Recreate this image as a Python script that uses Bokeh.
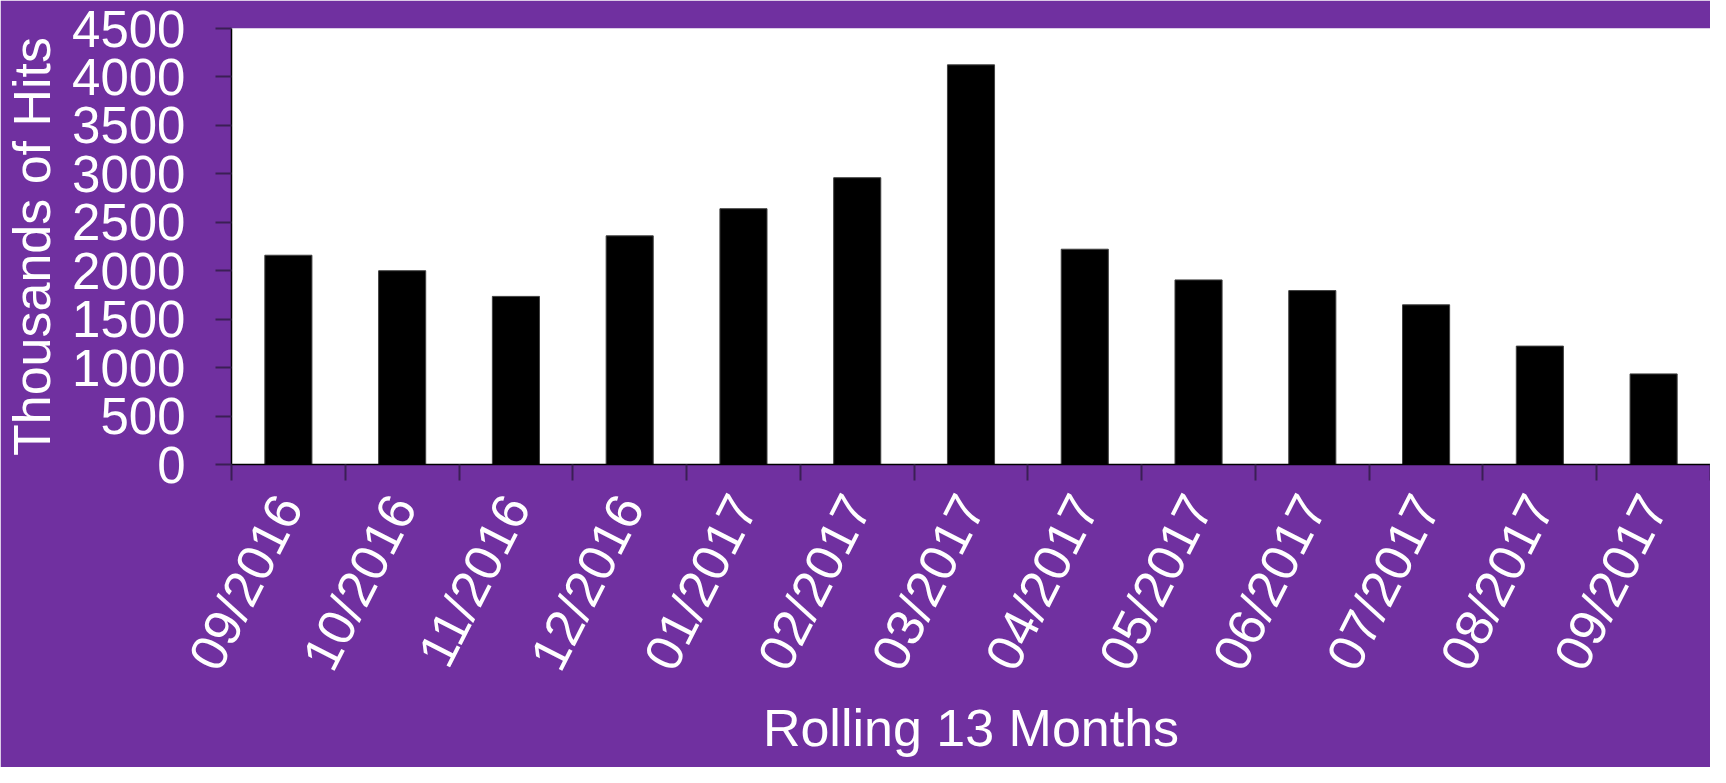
import math
from bokeh.plotting import figure
from bokeh.models import Range1d, FixedTicker
from bokeh.embed import file_html
from bokeh.resources import INLINE

months = ["09/2016", "10/2016", "11/2016", "12/2016", "01/2017", "02/2017", "03/2017",
          "04/2017", "05/2017", "06/2017", "07/2017", "08/2017", "09/2017"]
hits = [2160, 2000, 1735, 2360, 2640, 2960, 4125, 2222, 1905, 1795, 1648, 1222, 935]
yticks = [0, 500, 1000, 1500, 2000, 2500, 3000, 3500, 4000, 4500]

PURPLE = "#7030A0"
FONT = "Liberation Sans"

xpos = [i + 0.5 for i in range(len(months))]
bounds = list(range(len(months) + 1))

p = figure(width=1710, height=767, output_backend="svg", toolbar_location=None,
           x_range=Range1d(0, len(months)), y_range=Range1d(0, 4500),
           min_border_left=230, min_border_right=0, min_border_top=28, min_border_bottom=303)

p.background_fill_color = "white"
p.border_fill_color = PURPLE
p.outline_line_color = None
p.xgrid.visible = False
p.ygrid.visible = False

p.vbar(x=xpos, top=hits, width=0.414, bottom=0, fill_color="black",
       line_color="#404040", line_width=1)

# x axis
xa = p.xaxis[0]
xa.ticker = FixedTicker(ticks=xpos, minor_ticks=bounds)
xa.major_label_overrides = {x: m for x, m in zip(xpos, months)}
xa.major_tick_out = 0
xa.major_tick_in = 0
xa.minor_tick_out = 16
xa.minor_tick_in = 0
xa.minor_tick_line_color = "#3a1f55"
xa.minor_tick_line_width = 2
xa.axis_line_color = "black"
xa.axis_line_width = 1.5
xa.major_label_orientation = math.radians(63)
xa.major_label_text_font = FONT
xa.major_label_text_font_size = "52px"
xa.major_label_text_color = "white"
xa.major_label_standoff = 18
xa.axis_label = "Rolling 13 Months"
xa.axis_label_text_font = FONT
xa.axis_label_text_font_size = "52px"
xa.axis_label_text_font_style = "normal"
xa.axis_label_text_color = "white"
xa.axis_label_standoff = 4

# y axis
ya = p.yaxis[0]
ya.ticker = FixedTicker(ticks=yticks)
ya.major_tick_out = 16
ya.major_tick_in = 0
ya.minor_tick_out = 0
ya.minor_tick_in = 0
ya.major_tick_line_color = "#3a1f55"
ya.major_tick_line_width = 2
ya.axis_line_color = "black"
ya.axis_line_width = 1.5
ya.major_label_text_font = FONT
ya.major_label_text_font_size = "51px"
ya.major_label_text_color = "white"
ya.major_label_standoff = 30
ya.axis_label = "Thousands of Hits"
ya.axis_label_text_font = FONT
ya.axis_label_text_font_size = "52px"
ya.axis_label_text_font_style = "normal"
ya.axis_label_text_color = "white"
ya.axis_label_standoff = 8

open("out.html", "w").write(file_html(p, INLINE))
